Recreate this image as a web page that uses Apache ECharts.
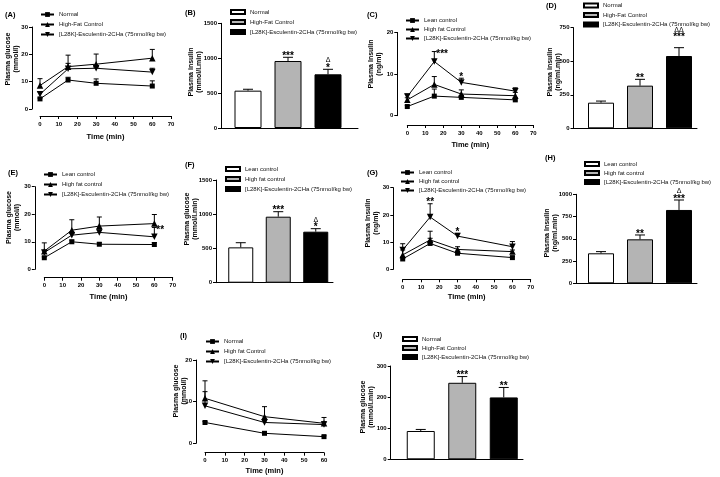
<!DOCTYPE html>
<html><head><meta charset="utf-8">
<script src="https://cdn.jsdelivr.net/npm/echarts@6/dist/echarts.min.js"></script>
<style>html,body{margin:0;padding:0;background:#fff}#c{width:720px;height:477px}</style>
</head><body><div id="c"></div>
<script>
// ================= DATA =================
const ESC = '[L28K]-Esculentin-2CHa (75nmol/kg bw)';
const times4 = [0, 15, 30, 60];
const times3 = [0, 30, 60];

// (A) plasma glucose, mmol/l
const A_names = ['Normal', 'High-Fat Control', ESC];
const A_normal = [3.7, 10.6, 9.4, 8.4];
const A_normalErr = [0.3, 1.0, 1.6, 1.9];
const A_hfc = [8.6, 15.5, 16.4, 18.6];
const A_hfcErr = [2.5, 4.2, 3.7, 3.2];
const A_esc = [5.4, 14.7, 14.9, 13.5];
const A_escErr = [0.8, 2.0, 1.0, 1.4];

// (B) plasma insulin AUC
const B_names = ['Normal', 'High-Fat Control', ESC];
const B_vals = [535, 960, 769];
const B_err = [20, 53, 72];
const B_marks = ['', '***', '\u0394\n*'];

// (C) plasma insulin, ng/ml
const C_names = ['Lean control', 'High fat Control', ESC];
const C_lean = [2.2, 4.7, 4.4, 3.8];
const C_leanErr = [0.3, 1.7, 0.4, 0.4];
const C_hfc = [3.8, 7.5, 5.2, 4.8];
const C_hfcErr = [0.5, 1.9, 1.0, 0.8];
const C_esc = [4.6, 13.0, 8.0, 5.9];
const C_escErr = [0.6, 2.4, 1.0, 0.8];
const C_escMarks = ['', '***', '*', ''];

// (D) plasma insulin AUC
const D_names = ['Normal', 'High-Fat Control', ESC];
const D_vals = [191, 318, 539];
const D_err = [12, 47, 62];
const D_marks = ['', '**', '\u0394\u0394\n***'];

// (E) plasma glucose
const E_names = ['Lean control', 'High fat control', ESC];
const E_lean = [4.2, 10.0, 9.1, 9.0];
const E_leanErr = [0.3, 0.6, 0.5, 0.7];
const E_hfc = [6.6, 14.2, 15.7, 16.6];
const E_hfcErr = [3.0, 3.8, 3.3, 3.3];
const E_esc = [6.1, 12.4, 13.4, 11.8];
const E_escErr = [0.6, 1.2, 0.9, 3.4];
const E_escMarks = ['', '', '', '**'];

// (F) plasma glucose AUC
const F_names = ['Lean control', 'High fat control', ESC];
const F_vals = [516, 964, 745];
const F_err = [68, 73, 44];
const F_marks = ['', '***', '\u0394\n*'];

// (G) plasma insulin
const G_names = ['Lean control', 'High fat control', ESC];
const G_lean = [3.8, 9.5, 5.9, 4.3];
const G_leanErr = [0.5, 1.9, 0.6, 0.4];
const G_hfc = [5.3, 10.8, 7.3, 6.5];
const G_hfcErr = [1.8, 3.2, 1.0, 0.6];
const G_esc = [7.1, 19.2, 12.2, 8.3];
const G_escErr = [2.3, 4.9, 1.0, 1.9];
const G_escMarks = ['', '**', '*', ''];

// (H) plasma insulin AUC
const H_names = ['Lean control', 'High fat control', ESC];
const H_vals = [337, 494, 824];
const H_err = [19, 49, 112];
const H_marks = ['', '**', '\u0394\n***'];

// (I) plasma glucose (insulin tolerance)
const I_names = ['Normal', 'High fat Control', ESC];
const I_normal = [5.0, 2.4, 1.6];
const I_normalErr = [0.2, 0.2, 0.2];
const I_hfc = [10.8, 6.4, 4.8];
const I_hfcErr = [4.2, 2.4, 1.4];
const I_esc = [9.0, 5.0, 4.5];
const I_escErr = [3.4, 0.4, 0.7];

// (J) plasma glucose AUC
const J_names = ['Normal', 'High-Fat Control', ESC];
const J_vals = [91, 246, 199];
const J_err = [5, 20, 32];
const J_marks = ['', '***', '**'];

// ================= STYLE / LAYOUT =================
const FONT = '"Liberation Sans", Arial, Helvetica, sans-serif';
const BLACK = '#000';
const SYMBOLS = ['rect', 'triangle', 'path://M0,0L10,0L5,9Z'];
const SYMSIZE = [5, 6.5, 6.5];
const BARFILL = ['#ffffff', '#b4b4b4', '#000000'];

const option = {
  animation: false, backgroundColor: '#fff',
  textStyle: { fontFamily: FONT },
  grid: [], xAxis: [], yAxis: [], legend: [], series: [], graphic: []
};

const plainNum = v => String(v);

function yValueAxis(gi, max, interval, offset) {
  return {
    gridIndex: gi, type: 'value', min: 0, max, interval, offset,
    axisLine: { show: true, onZero: false, lineStyle: { color: BLACK, width: 1 } },
    axisTick: { show: true, length: 3, lineStyle: { color: BLACK, width: 1 } },
    axisLabel: { fontSize: 6, fontWeight: 'bold', color: BLACK, margin: 4, fontFamily: FONT, formatter: plainNum },
    splitLine: { show: false }
  };
}

function markTexts(m, p, side, gap) {
  const out = [];
  if (side === 'right') {
    out.push({ type: 'text', x: p[0] + 2, y: p[1] + 2.5,
      style: { text: m, font: 'bold 10px ' + FONT, fill: BLACK, align: 'left', verticalAlign: 'middle' } });
    return out;
  }
  let yb = p[1] - gap;
  m.split('\n').reverse().forEach(ln => {
    if (ln.indexOf('*') >= 0) {
      out.push({ type: 'text', x: p[0], y: yb + 5,
        style: { text: ln, font: 'bold 10px ' + FONT, fill: BLACK, align: 'center', verticalAlign: 'bottom' } });
      yb -= 5;
    } else {
      out.push({ type: 'text', x: p[0], y: yb + 0.5,
        style: { text: ln, font: '7px ' + FONT, fill: BLACK, align: 'center', verticalAlign: 'bottom' } });
      yb -= 6.5;
    }
  });
  return out;
}

function errorSeries(gi, points, capW, marks, sides, gaps) {
  return {
    type: 'custom', xAxisIndex: gi, yAxisIndex: gi, silent: true, z: 5, clip: false,
    data: points, encode: { x: 0, y: 1 },
    renderItem(params, api) {
      const x = api.value(0), y = api.value(1), e = api.value(2);
      const p0 = api.coord([x, y]), p1 = api.coord([x, y + e]);
      const ch = [
        { type: 'line', shape: { x1: p0[0], y1: p0[1], x2: p1[0], y2: p1[1] }, style: { stroke: BLACK, lineWidth: 1 } },
        { type: 'line', shape: { x1: p1[0] - capW / 2, y1: p1[1], x2: p1[0] + capW / 2, y2: p1[1] }, style: { stroke: BLACK, lineWidth: 1 } }
      ];
      const i = params.dataIndex;
      const m = marks && marks[i];
      if (m) ch.push(...markTexts(m, p1, sides ? sides[i] : 'top', gaps ? gaps[i] : 1));
      return { type: 'group', children: ch };
    }
  };
}

function legendFor(key, names, L, isBar) {
  option.legend.push({
    orient: 'vertical', left: L.left, top: L.top, itemGap: L.gap, padding: 0,
    itemWidth: isBar ? 14 : 13, itemHeight: isBar ? 4 : 6, itemTextGap: 2,
    icon: isBar ? 'rect' : undefined,
    selectedMode: false,
    data: names.map(n => key + '|' + n),
    formatter: n => n.split('|')[1],
    textStyle: { fontSize: 6, fontWeight: 'normal', color: '#111', fontFamily: FONT, lineHeight: 7 }
  });
}

function panelTexts(label, labelPos, ytitle, ytPos) {
  option.graphic.push({ type: 'text', x: labelPos[0], y: labelPos[1],
    style: { text: label, font: 'bold 7.5px ' + FONT, fill: BLACK, align: 'left', verticalAlign: 'middle' } });
  option.graphic.push({ type: 'text', x: ytPos[0], y: ytPos[1], rotation: Math.PI / 2,
    style: { text: ytitle, font: 'bold 7px ' + FONT, fill: BLACK, align: 'center', verticalAlign: 'middle', lineHeight: 8 } });
}

function linePanel(c) {
  const gi = option.grid.length;
  option.grid.push({ left: c.grid[0], top: c.grid[1], width: c.grid[2], height: c.grid[3], containLabel: false, outerBoundsMode: 'none' });
  option.xAxis.push({
    gridIndex: gi, type: 'value', min: 0, max: c.xMax, interval: 10, offset: c.xOff,
    name: 'Time (min)', nameLocation: 'middle', nameGap: c.nameGap,
    nameTextStyle: { fontSize: 7.5, fontWeight: 'bold', color: BLACK, fontFamily: FONT },
    axisLine: { show: true, onZero: false, lineStyle: { color: BLACK, width: 1 } },
    axisTick: { show: true, length: 3, lineStyle: { color: BLACK, width: 1 } },
    axisLabel: { fontSize: 6, fontWeight: 'bold', color: BLACK, margin: 5, fontFamily: FONT, formatter: plainNum },
    splitLine: { show: false }
  });
  option.yAxis.push(yValueAxis(gi, c.yMax, c.yInt, c.yOff));
  c.groups.forEach((g, k) => {
    const name = c.key + '|' + c.names[k];
    option.series.push({
      type: 'line', name, xAxisIndex: gi, yAxisIndex: gi,
      data: c.times.map((t, i) => [t, g.v[i]]),
      symbol: SYMBOLS[k], symbolSize: SYMSIZE[k], clip: false,
      lineStyle: { color: BLACK, width: 1 }, itemStyle: { color: BLACK }, z: 3
    });
    option.series.push(errorSeries(gi, c.times.map((t, i) => [t, g.v[i], g.e[i]]), 5, g.marks, g.sides));
  });
  legendFor(c.key, c.names, c.legend, false);
  panelTexts(c.label, c.labelPos, c.ytitle, c.ytPos);
}

function barPanel(c) {
  const gi = option.grid.length;
  option.grid.push({ left: c.grid[0], top: c.grid[1], width: c.grid[2], height: c.grid[3], containLabel: false, outerBoundsMode: 'none' });
  option.xAxis.push({
    gridIndex: gi, type: 'category', data: c.names,
    axisLine: { show: false }, axisTick: { show: false }, axisLabel: { show: false }, splitLine: { show: false }
  });
  option.yAxis.push(yValueAxis(gi, c.yMax, c.yInt, c.yOff));
  c.names.forEach((n, k) => {
    option.series.push({
      type: 'bar', name: c.key + '|' + n, xAxisIndex: gi, yAxisIndex: gi,
      data: c.vals.map((v, i) => (i === k ? v : '-')),
      barWidth: c.barWidth, barGap: '-100%',
      itemStyle: { color: BARFILL[k], borderColor: BLACK, borderWidth: 1 }, z: 2
    });
  });
  option.series.push(errorSeries(gi, c.vals.map((v, i) => [i, v, c.err[i]]), 10, c.marks, null, c.gaps));
  // baseline drawn by a helper axis that runs from the y axis to the right end
  const bi = option.grid.length;
  option.grid.push({ left: c.base[0], top: c.grid[1] + c.grid[3] - 10, width: c.base[1] - c.base[0], height: 10, containLabel: false, outerBoundsMode: 'none' });
  option.xAxis.push({ gridIndex: bi, type: 'value', min: 0, max: 1,
    axisLine: { show: true, onZero: false, lineStyle: { color: BLACK, width: 1 } },
    axisTick: { show: false }, axisLabel: { show: false }, splitLine: { show: false } });
  option.yAxis.push({ gridIndex: bi, type: 'value', min: 0, max: 1, show: false });
  legendFor(c.key, c.names, c.legend, true);
  panelTexts(c.label, c.labelPos, c.ytitle, c.ytPos);
}

// ---------- panels ----------
linePanel({ key: 'A', names: A_names, times: times4,
  groups: [{ v: A_normal, e: A_normalErr }, { v: A_hfc, e: A_hfcErr }, { v: A_esc, e: A_escErr }],
  grid: [40, 27, 131, 82], xMax: 70, yMax: 30, yInt: 10, yOff: 8, xOff: 7, nameGap: 17,
  legend: { left: 40, top: 11, gap: 3 }, label: '(A)', labelPos: [5, 15],
  ytitle: 'Plasma glucose\n(mmol/l)', ytPos: [12.5, 59] });

barPanel({ key: 'B', names: B_names, vals: B_vals, err: B_err, marks: B_marks,
  grid: [228, 23.3, 120, 104.7], yMax: 1500, yInt: 500, yOff: 7, barWidth: 27, base: [221, 358],
  legend: { left: 230, top: 8.5, gap: 3 }, label: '(B)', labelPos: [185, 13],
  ytitle: 'Plasma insulin\n(mmol/l.min)', ytPos: [195, 72] });

linePanel({ key: 'C', names: C_names, times: times4,
  groups: [{ v: C_lean, e: C_leanErr }, { v: C_hfc, e: C_hfcErr },
           { v: C_esc, e: C_escErr, marks: C_escMarks, sides: ['', 'right', 'top', ''] }],
  grid: [407.3, 32.4, 126, 83.3], xMax: 70, yMax: 20, yInt: 10, yOff: 10, xOff: 9.3, nameGap: 15.5,
  legend: { left: 405, top: 17, gap: 2 }, label: '(C)', labelPos: [367, 15],
  ytitle: 'Plasma Insulin\n(ng/ml)', ytPos: [375, 64] });

barPanel({ key: 'D', names: D_names, vals: D_vals, err: D_err, marks: D_marks, gaps: [1, 1, 10],
  grid: [581.5, 27.7, 117, 100.6], yMax: 750, yInt: 250, yOff: 8, barWidth: 26, base: [573, 697],
  legend: { left: 583, top: 2, gap: 2.5 }, label: '(D)', labelPos: [546, 6],
  ytitle: 'Plasma insulin\n(ng/ml.min)', ytPos: [554, 72] });

linePanel({ key: 'E', names: E_names, times: times4,
  groups: [{ v: E_lean, e: E_leanErr }, { v: E_hfc, e: E_hfcErr },
           { v: E_esc, e: E_escErr, marks: E_escMarks, sides: ['', '', '', 'right'] }],
  grid: [44.3, 186.7, 128.4, 82.6], xMax: 70, yMax: 30, yInt: 10, yOff: 9.5, xOff: 8.4, nameGap: 15.5,
  legend: { left: 43, top: 171, gap: 3 }, label: '(E)', labelPos: [8, 173],
  ytitle: 'Plasma glucose\n(mmol/l)', ytPos: [13.5, 217.5] });

barPanel({ key: 'F', names: F_names, vals: F_vals, err: F_err, marks: F_marks,
  grid: [222, 180, 112.5, 102.7], yMax: 1500, yInt: 500, yOff: 6, barWidth: 25, base: [216, 333],
  legend: { left: 225, top: 165.5, gap: 3 }, label: '(F)', labelPos: [185, 165],
  ytitle: 'Plasma glucose\n(mmol/l.min)', ytPos: [191, 219] });

linePanel({ key: 'G', names: G_names, times: times4,
  groups: [{ v: G_lean, e: G_leanErr }, { v: G_hfc, e: G_hfcErr },
           { v: G_esc, e: G_escErr, marks: G_escMarks, sides: ['', 'top', 'top', ''] }],
  grid: [402.7, 187.7, 128, 81.6], xMax: 70, yMax: 30, yInt: 10, yOff: 9.4, xOff: 10, nameGap: 14,
  legend: { left: 400, top: 169, gap: 2 }, label: '(G)', labelPos: [367, 173],
  ytitle: 'Plasma Insulin\n(ng/ml)', ytPos: [372, 223] });

barPanel({ key: 'H', names: H_names, vals: H_vals, err: H_err, marks: H_marks,
  grid: [581.5, 194.3, 117, 89], yMax: 1000, yInt: 250, yOff: 5.5, barWidth: 26, base: [576, 697],
  legend: { left: 584, top: 160.5, gap: 2 }, label: '(H)', labelPos: [545, 158],
  ytitle: 'Plasma Insulin\n(ng/ml.min)', ytPos: [551, 233] });

linePanel({ key: 'I', names: I_names, times: times3,
  groups: [{ v: I_normal, e: I_normalErr }, { v: I_hfc, e: I_hfcErr }, { v: I_esc, e: I_escErr }],
  grid: [205, 360, 119, 83.3], xMax: 60, yMax: 20, yInt: 10, yOff: 9, xOff: 9.4, nameGap: 14.5,
  legend: { left: 205, top: 338, gap: 3 }, label: '(I)', labelPos: [180, 336],
  ytitle: 'Plasma glucose\n(mmol/l)', ytPos: [180, 391] });

barPanel({ key: 'J', names: J_names, vals: J_vals, err: J_err, marks: J_marks,
  grid: [400, 366, 124.5, 93.3], yMax: 300, yInt: 100, yOff: 9.3, barWidth: 28, base: [391, 523],
  legend: { left: 402, top: 335.5, gap: 2 }, label: '(J)', labelPos: [373, 335],
  ytitle: 'Plasma glucose\n(mmol/l.min)', ytPos: [367, 407] });

const chart = echarts.init(document.getElementById('c'), null, { renderer: 'canvas' });
chart.setOption(option);
</script>
</body></html>
